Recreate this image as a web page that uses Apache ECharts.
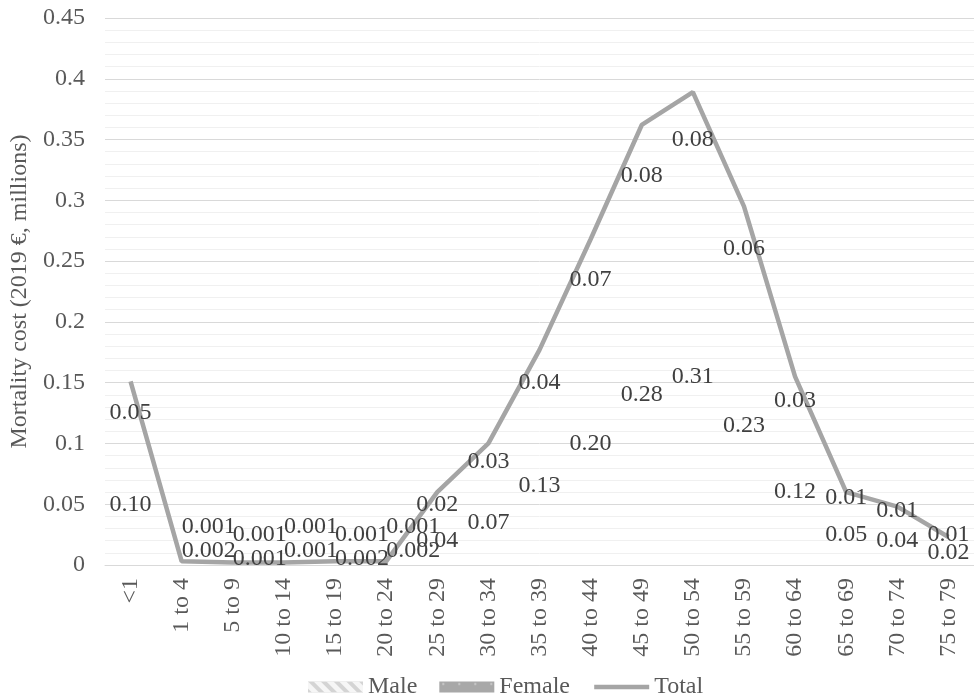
<!DOCTYPE html>
<html>
<head>
<meta charset="utf-8">
<script src="https://cdn.jsdelivr.net/npm/echarts@6/dist/echarts.min.js"></script>
<style>
html,body{margin:0;padding:0;background:#fff;}
#chart{width:974px;height:694px;}
</style>
</head>
<body>
<div id="chart"></div>
<script>
const categories = ['<1','1 to 4','5 to 9','10 to 14','15 to 19','20 to 24','25 to 29','30 to 34','35 to 39','40 to 44','45 to 49','50 to 54','55 to 59','60 to 64','65 to 69','70 to 74','75 to 79'];
const male   = [0.10, 0.002, 0.001, 0.001, 0.002, 0.002, 0.04, 0.07, 0.13, 0.20, 0.28, 0.31, 0.23, 0.12, 0.05, 0.04, 0.02];
const female = [0.05, 0.001, 0.001, 0.001, 0.001, 0.001, 0.02, 0.03, 0.04, 0.07, 0.08, 0.08, 0.06, 0.03, 0.01, 0.01, 0.01];
const total  = [0.151, 0.003, 0.002, 0.002, 0.003, 0.003, 0.06, 0.10, 0.177, 0.268, 0.362, 0.389, 0.295, 0.155, 0.06, 0.048, 0.023];
const yTicks = { min: 0, max: 0.45, interval: 0.05 };

const FONT = 'Liberation Serif';
const FS = 24;
const GRID = { left: 105, right: -5, top: 18, bottom: 129 };
const chart = echarts.init(document.getElementById('chart'));

function fmt(v){ return v < 0.01 ? v.toFixed(3) : v.toFixed(2); }

// Labels of segments too thin to hold them are stacked above the axis,
// alternately nudged so neighbours do not collide.
function tinyLayout(p){
  const lh = p.labelRect.height;
  if (p.rect.height >= 5) return {};
  const base = chart.getHeight() - GRID.bottom;
  const level = p.seriesIndex;
  const stagger = (p.dataIndex % 2 === 1) ? -4 : 4;
  return { y: base - lh / 2 + 2 - level * lh + stagger, verticalAlign: 'middle' };
}

const barLabel = {
  show: true, position: 'inside', color: '#404040',
  fontFamily: FONT, fontSize: FS,
  formatter: p => fmt(p.value)
};

chart.setOption({
  animation: false,
  textStyle: { fontFamily: FONT },
  grid: GRID,
  legend: {
    top: 675, left: 308, padding: 0, itemGap: 22,
    itemWidth: 55, itemHeight: 11,
    textStyle: { fontFamily: FONT, fontSize: FS, color: '#595959' },
    data: [
      { name: 'Male', icon: 'rect', itemStyle: { color: '#d4d4d4', decal: { symbol: 'rect', dashArrayX: [1, 0], dashArrayY: [5, 4], rotation: Math.PI / 4, color: '#f6f6f6' } } },
      { name: 'Female', icon: 'rect', itemStyle: { color: '#a8a8a8', decal: { symbol: 'circle', symbolSize: 0.4, dashArrayX: [[8, 8]], dashArrayY: [5, 5], color: '#d8d8d8' } } },
      { name: 'Total', itemStyle: { opacity: 0 }, lineStyle: { color: '#a5a5a5', width: 4.5 } }
    ]
  },
  xAxis: {
    type: 'category', data: categories,
    axisLine: { lineStyle: { color: '#d9d9d9', width: 1 } },
    axisTick: { show: false },
    axisLabel: { rotate: 90, color: '#595959', fontFamily: FONT, fontSize: FS, margin: 13, interval: 0 }
  },
  yAxis: {
    type: 'value', min: yTicks.min, max: yTicks.max, interval: yTicks.interval,
    name: 'Mortality cost (2019 €, millions)', nameLocation: 'middle', nameGap: 66,
    nameTextStyle: { fontFamily: FONT, fontSize: FS, color: '#595959' },
    axisLine: { show: false }, axisTick: { show: false },
    axisLabel: { color: '#595959', fontFamily: FONT, fontSize: FS, margin: 20, formatter: v => String(+v.toFixed(2)) },
    splitLine: { lineStyle: { color: '#d9d9d9', width: 1 } },
    minorTick: { show: false, splitNumber: 5 },
    minorSplitLine: { show: true, lineStyle: { color: '#f0f0f0', width: 1 } }
  },
  series: [
    { name: 'Male', type: 'bar', stack: 's', data: male, z: 4, barWidth: '60%',
      itemStyle: { color: 'rgba(0,0,0,0)' }, label: barLabel, labelLayout: tinyLayout },
    { name: 'Female', type: 'bar', stack: 's', data: female, z: 4,
      itemStyle: { color: 'rgba(0,0,0,0)' }, label: barLabel, labelLayout: tinyLayout },
    { name: 'Total', type: 'line', data: total, z: 2, symbol: 'none',
      lineStyle: { color: '#a5a5a5', width: 4.5 }, itemStyle: { color: '#a5a5a5' } }
  ]
});
</script>
</body>
</html>
